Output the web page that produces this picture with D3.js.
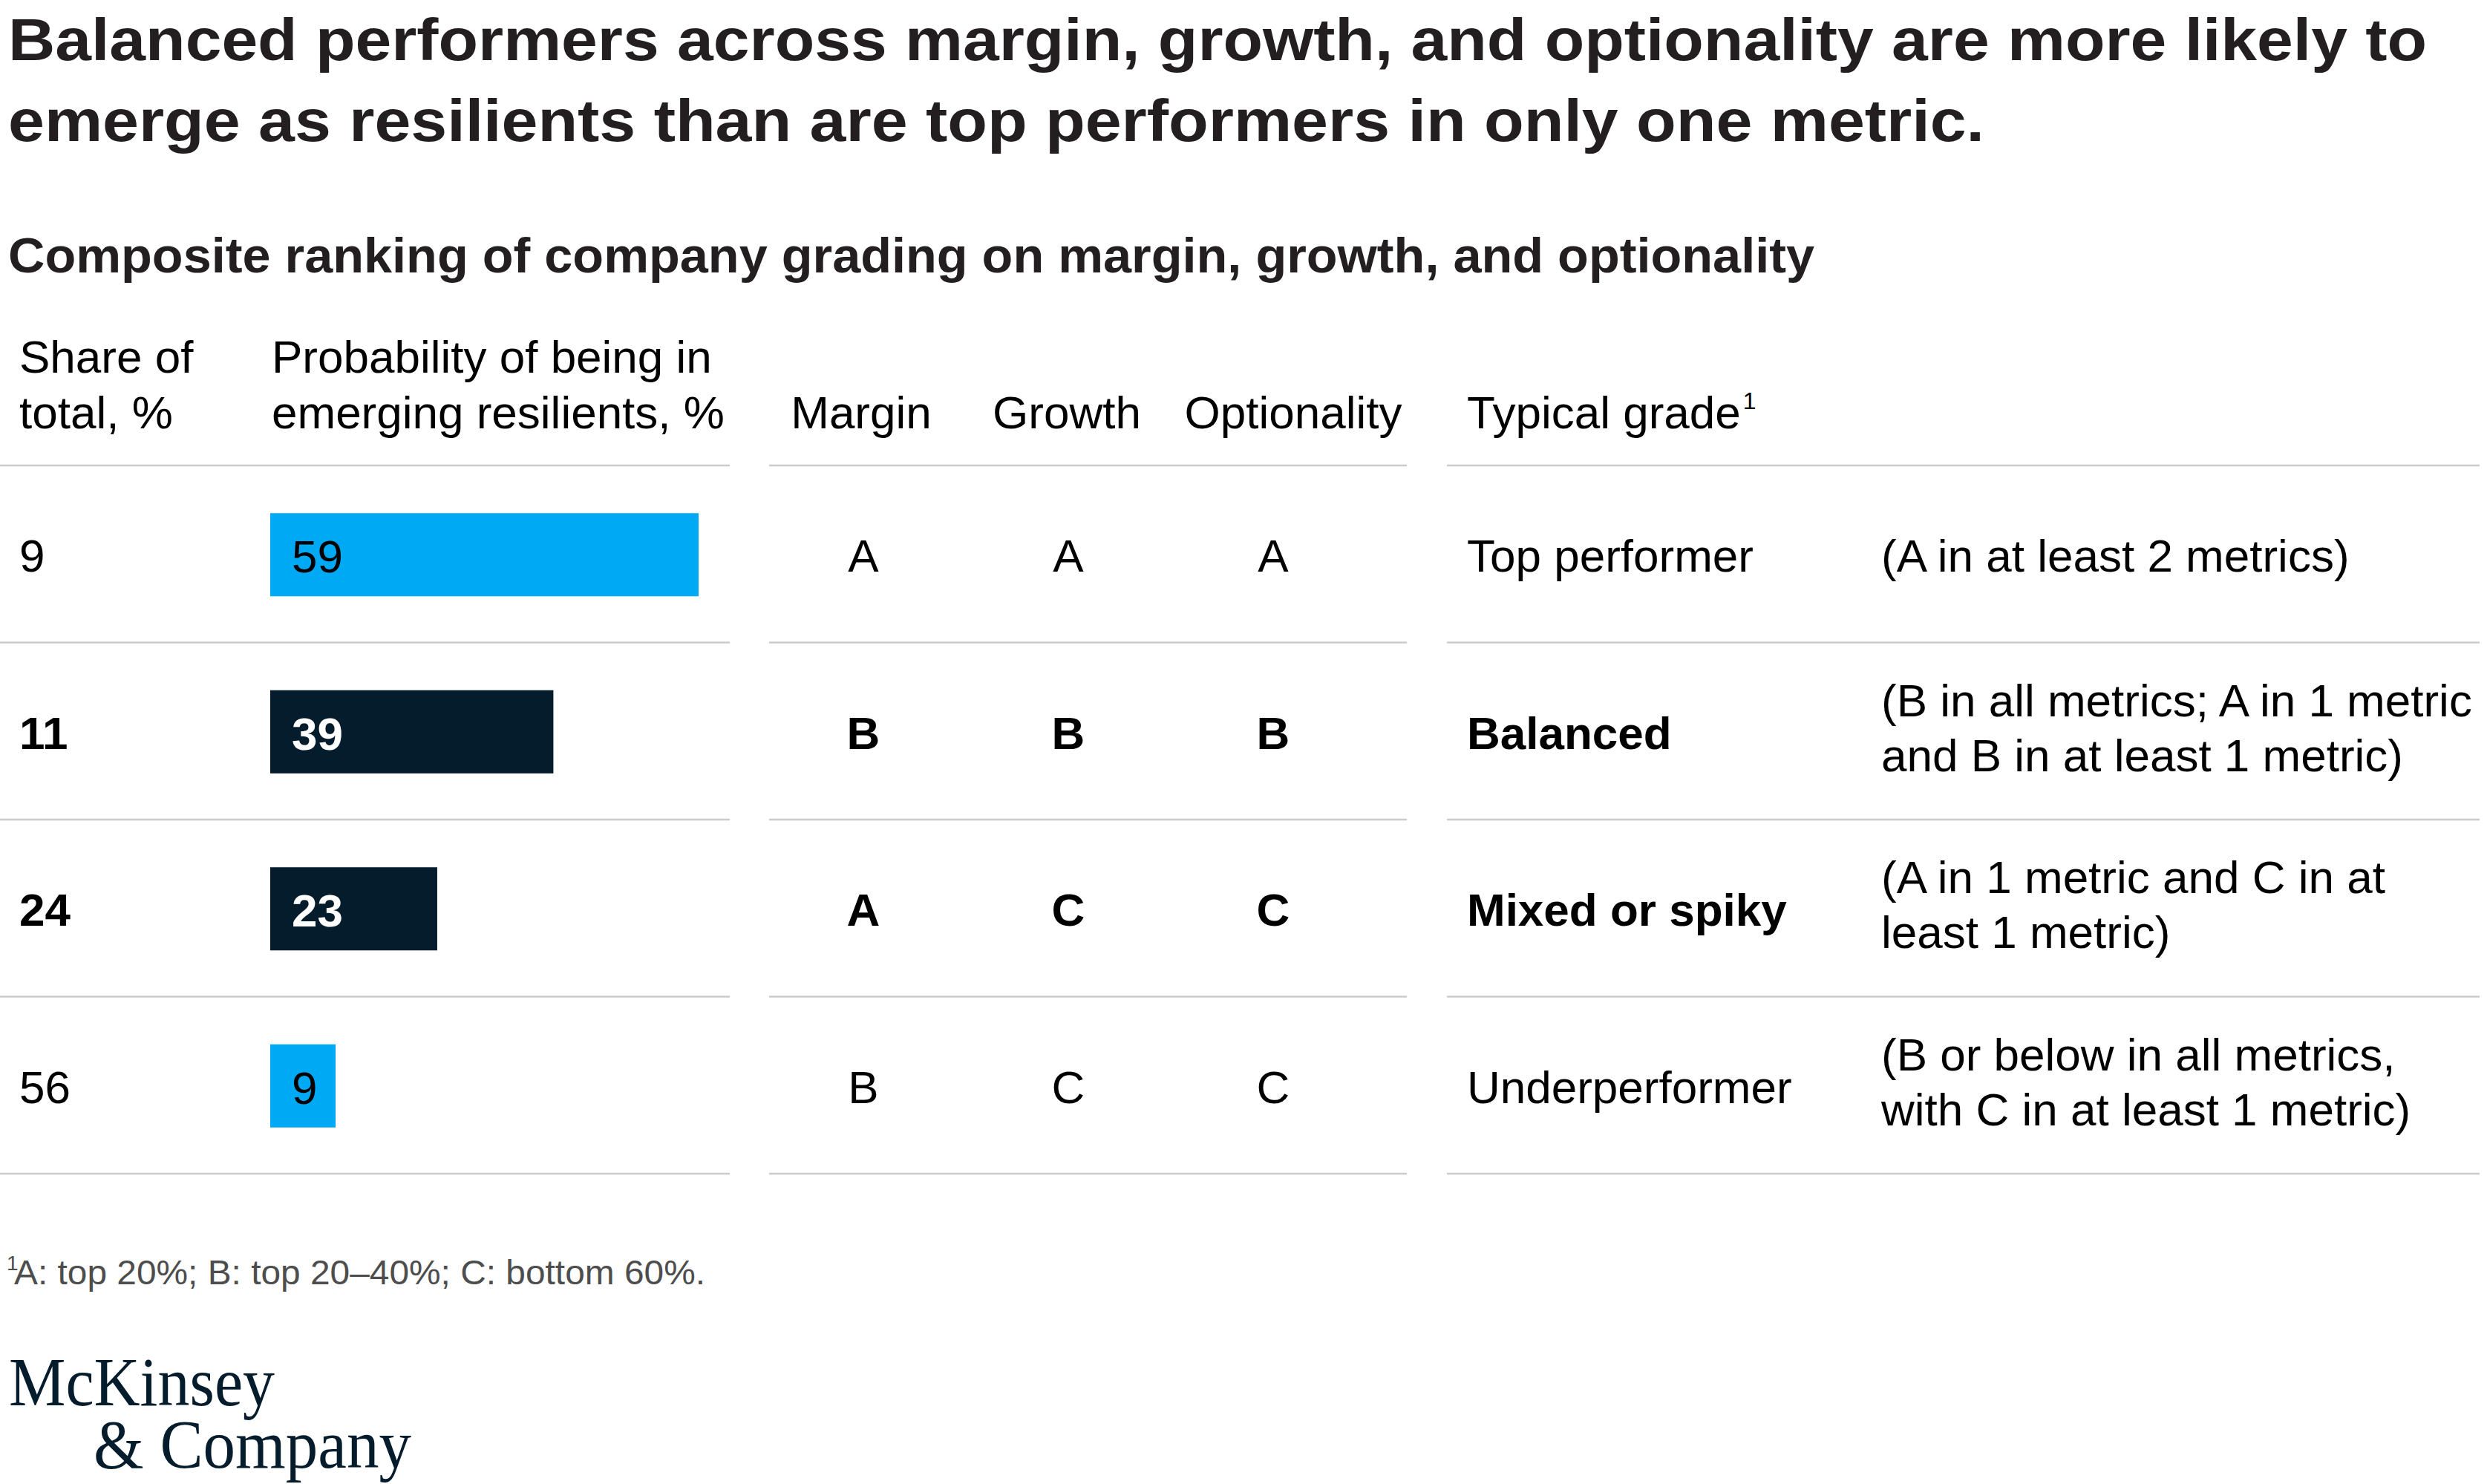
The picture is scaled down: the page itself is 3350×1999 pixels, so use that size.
<!DOCTYPE html>
<html>
<head>
<meta charset="utf-8">
<script src="https://cdn.jsdelivr.net/npm/d3@7"></script>
<style>
html, body { margin: 0; padding: 0; background: #ffffff; }
svg { display: block; }
</style>
</head>
<body>
<svg id="chart" width="3350" height="1999"></svg>
<script>
// ---------------- DATA ----------------
const categories = ["Top performer", "Balanced", "Mixed or spiky", "Underperformer"];
const shareOfTotal = [9, 11, 24, 56];
const probability = [59, 39, 23, 9];
const metrics = ["Margin", "Growth", "Optionality"];
const marginGrades = ["A", "B", "A", "B"];
const growthGrades = ["A", "B", "C", "C"];
const optionalityGrades = ["A", "B", "C", "C"];
const gradeDescriptions = [
  ["(A in at least 2 metrics)"],
  ["(B in all metrics; A in 1 metric", "and B in at least 1 metric)"],
  ["(A in 1 metric and C in at", "least 1 metric)"],
  ["(B or below in all metrics,", "with C in at least 1 metric)"]
];
const emphasized = [false, true, true, false];
const titleLines = [
  "Balanced performers across margin, growth, and optionality are more likely to",
  "emerge as resilients than are top performers in only one metric."
];
const subtitle = "Composite ranking of company grading on margin, growth, and optionality";
const headerShare = ["Share of", "total, %"];
const headerProb = ["Probability of being in", "emerging resilients, %"];
const headerGrade = "Typical grade";
const footnote = "A: top 20%; B: top 20–40%; C: bottom 60%.";
const logoLines = ["McKinsey", "& Company"];

// ---------------- STYLE / LAYOUT ----------------
const SANS = "'Liberation Sans', Arial, Helvetica, sans-serif";
const SERIF = "'Liberation Serif', 'Times New Roman', serif";
const BLUE = "#00A9F4";
const NAVY = "#051C2C";
const RULE = "#cccccc";
const BODY = 62;

const svg = d3.select("#chart");
svg.append("rect").attr("width", 3350).attr("height", 1999).attr("fill", "#fff");

function fit(sel, w) {
  sel.each(function () {
    const l = this.getComputedTextLength();
    if (Math.abs(l - w) / w > 0.004) {
      d3.select(this).attr("textLength", w).attr("lengthAdjust", "spacingAndGlyphs");
    }
  });
}

// Title
const titleBaselines = [81, 190];
const titleWidths = [3258, 2662];
titleLines.forEach((t, i) => {
  const el = svg.append("text")
    .attr("x", 11).attr("y", titleBaselines[i])
    .attr("font-family", SANS).attr("font-weight", 700).attr("font-size", 80)
    .attr("fill", "#231f20").text(t);
  fit(el, titleWidths[i]);
});

// Subtitle
fit(svg.append("text")
  .attr("x", 11).attr("y", 367)
  .attr("font-family", SANS).attr("font-weight", 700).attr("font-size", 67)
  .attr("fill", "#231f20").text(subtitle), 2433);

// Scales
const y = d3.scaleBand().domain(categories).range([627, 1581]);
const x = d3.scaleLinear().domain([0, d3.max(probability)]).range([364, 941]);
const xm = d3.scaleBand().domain(metrics).range([1025, 1853]);
const rowC = c => y(c) + y.bandwidth() / 2;

// Header texts
const hdr = svg.append("g").attr("font-family", SANS).attr("font-size", BODY).attr("fill", "#000");
headerShare.forEach((t, i) => hdr.append("text").attr("x", 26).attr("y", 502 + i * 75).text(t));
headerProb.forEach((t, i) => hdr.append("text").attr("x", 366).attr("y", 502 + i * 75).text(t));
const metricHeaderX = [1160, 1437, 1742];
metrics.forEach((m, i) => hdr.append("text").attr("x", metricHeaderX[i]).attr("y", 577)
  .attr("text-anchor", "middle").text(m));
const tg = hdr.append("text").attr("x", 1976).attr("y", 577);
tg.append("tspan").text(headerGrade);
tg.append("tspan").attr("font-size", 32).attr("dy", -26).attr("dx", 3).text("1");

// Rules
const segments = [[0, 983], [1036, 1895], [1949, 3340]];
const ruleYs = [y.range()[0]].concat(categories.map(c => y(c) + y.bandwidth()));
const rules = svg.append("g").attr("stroke", RULE).attr("stroke-width", 2.5);
segments.forEach(s => ruleYs.forEach(ry => {
  rules.append("line").attr("x1", s[0]).attr("x2", s[1]).attr("y1", ry).attr("y2", ry);
}));

// Rows
const rows = categories.map((c, i) => ({
  c, share: shareOfTotal[i], prob: probability[i],
  grades: [marginGrades[i], growthGrades[i], optionalityGrades[i]],
  desc: gradeDescriptions[i], em: emphasized[i]
}));

const g = svg.append("g").attr("font-family", SANS).attr("font-size", BODY);

// share of total
g.selectAll("text.share").data(rows).join("text")
  .attr("class", "share")
  .attr("x", 26).attr("y", d => rowC(d.c) + 24)
  .attr("font-weight", d => d.em ? 700 : 400)
  .attr("fill", "#000").text(d => d.share);

// bars
const BAR_H = 112;
g.selectAll("rect.bar").data(rows).join("rect")
  .attr("class", "bar")
  .attr("x", x(0)).attr("y", d => rowC(d.c) - BAR_H / 2 + 1)
  .attr("width", d => x(d.prob) - x(0)).attr("height", BAR_H)
  .attr("fill", d => d.em ? NAVY : BLUE);

g.selectAll("text.barlabel").data(rows).join("text")
  .attr("class", "barlabel")
  .attr("x", x(0) + 29).attr("y", d => rowC(d.c) + 25)
  .attr("font-weight", d => d.em ? 700 : 400)
  .attr("fill", d => d.em ? "#fff" : "#000").text(d => d.prob);

// grades
rows.forEach(d => {
  d.grades.forEach((gr, j) => {
    g.append("text")
      .attr("x", xm(metrics[j]) + xm.bandwidth() / 2).attr("y", rowC(d.c) + 24)
      .attr("text-anchor", "middle")
      .attr("font-weight", d.em ? 700 : 400).attr("fill", "#000").text(gr);
  });
});

// typical grade names
g.selectAll("text.gname").data(rows).join("text")
  .attr("class", "gname")
  .attr("x", 1976).attr("y", d => rowC(d.c) + 24)
  .attr("font-weight", d => d.em ? 700 : 400)
  .attr("fill", "#000").text(d => d.c);

// descriptions
rows.forEach(d => {
  const n = d.desc.length;
  d.desc.forEach((line, k) => {
    const off = n === 1 ? 24 : 17 + (k - (n - 1) / 2) * 74;
    g.append("text").attr("x", 2534).attr("y", rowC(d.c) + off)
      .attr("fill", "#000").text(line);
  });
});

// Footnote
svg.append("text").attr("x", 9).attr("y", 1711)
  .attr("font-family", SANS).attr("font-size", 28).attr("fill", "#4d4d4d").text("1");
fit(svg.append("text").attr("x", 19).attr("y", 1730)
  .attr("font-family", SANS).attr("font-size", 46).attr("fill", "#4d4d4d").text(footnote), 931);

// Logo (one text element, two lines)
const logo = svg.append("text").attr("font-family", SERIF).attr("font-size", 94).attr("fill", NAVY);
const l1 = logo.append("tspan").attr("x", 12).attr("y", 1893).text(logoLines[0]);
const l2 = logo.append("tspan").attr("x", 126).attr("y", 1977).text(logoLines[1]);
[[l1, 358], [l2, 428]].forEach(([t, w]) => {
  const len = t.node().getComputedTextLength();
  if (Math.abs(len - w) / w > 0.004) t.attr("textLength", w).attr("lengthAdjust", "spacingAndGlyphs");
});
</script>
</body>
</html>
